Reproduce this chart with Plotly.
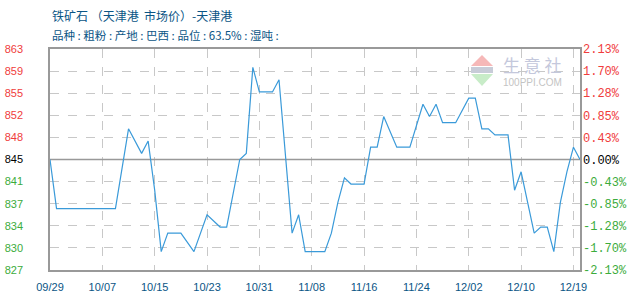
import datetime as dt
import plotly.graph_objects as go

# ---- data ----
dates = ["09/29", "09/30", "10/09", "10/11", "10/13", "10/14", "10/15", "10/16", "10/17", "10/19",
         "10/21", "10/23", "10/25", "10/26", "10/28", "10/29", "10/30", "10/31", "11/02", "11/03",
         "11/05", "11/06", "11/07", "11/10", "11/11", "11/12", "11/13", "11/14", "11/16", "11/17",
         "11/18", "11/19", "11/21", "11/23", "11/25", "11/26", "11/27", "11/28", "11/30", "12/02",
         "12/03", "12/04", "12/05", "12/06", "12/08", "12/09", "12/10", "12/12", "12/13", "12/15",
         "12/16", "12/17", "12/18", "12/19", "12/20"]
prices = [845, 837, 837, 850, 846, 848, 840, 830, 833, 833,
          830, 836, 834, 834, 845, 846, 860, 856, 856, 858,
          833, 836, 830, 830, 833, 838, 842, 841, 841, 847,
          847, 852, 847, 847, 854, 852, 854, 851, 851, 855,
          855, 850, 850, 849, 849, 840, 843, 833, 834, 834,
          830, 838, 843, 847, 845]

# trading-day axis (one day missing between 12/10 and 12/19)
start = dt.date(2014, 9, 29)
axis_days = []
d = start
while len(axis_days) < 82:
    s = d.strftime("%m/%d")
    if s != "12/14":
        axis_days.append(s)
    d += dt.timedelta(days=1)
x_ticks = axis_days[::8]

base = 845
y_ticks = [827 + k * 3.6 for k in range(11)]
left_labels = ["827", "830", "834", "837", "841", "845", "848", "852", "855", "859", "863"]
right_labels = ["-2.13%", "-1.70%", "-1.28%", "-0.85%", "-0.43%", "0.00%",
                "0.43%", "0.85%", "1.28%", "1.70%", "2.13%"]

RED = "#f03c3c"
GREEN = "#3cac3c"
BLUE_TXT = "#0a5585"


def colored(labels, vals):
    out = []
    for lab, v in zip(labels, vals):
        if abs(v - base) < 0.01:
            c = "#000000"
        elif v > base:
            c = RED
        else:
            c = GREEN
        out.append(f'<span style="color:{c}">{lab}</span>')
    return out


fig = go.Figure()
# base reference line (845)
fig.add_trace(go.Scatter(x=[axis_days[0], axis_days[-1]], y=[base, base], mode="lines",
                         line=dict(color="#999999", width=1.5), hoverinfo="skip"))
fig.add_trace(go.Scatter(x=dates, y=prices, mode="lines",
                         line=dict(color="#3a9ad9", width=1.2), hoverinfo="skip"))
fig.add_trace(go.Scatter(x=dates, y=prices, mode="lines", yaxis="y2",
                         line=dict(color="rgba(0,0,0,0)", width=0), hoverinfo="skip"))

fig.update_layout(
    width=630, height=300,
    margin=dict(l=50, r=50, t=49, b=30, autoexpand=False),
    paper_bgcolor="white", plot_bgcolor="white",
    showlegend=False,
    xaxis=dict(type="category", categoryorder="array", categoryarray=axis_days,
               range=[0, 81], tickmode="array", tickvals=x_ticks, ticktext=x_ticks,
               showgrid=True, gridcolor="#c8c8c8", griddash="dash", gridwidth=1,
               showline=True, linecolor="#999999", linewidth=1.5, mirror=True,
               ticks="", ticklabelstandoff=6, automargin=False,
               tickfont=dict(family="Liberation Sans", size=11, color=BLUE_TXT),
               zeroline=False),
    yaxis=dict(range=[827, 863], tickmode="array", tickvals=y_ticks,
               ticktext=colored(left_labels, y_ticks),
               showgrid=True, gridcolor="#c8c8c8", griddash="dash", gridwidth=1,
               showline=True, linecolor="#999999", linewidth=1.5, mirror=True,
               ticks="", ticklabelstandoff=23, automargin=False,
               tickfont=dict(family="Liberation Sans", size=11, color="#000"),
               zeroline=False),
    yaxis2=dict(range=[827, 863], overlaying="y", side="right",
                tickmode="array", tickvals=y_ticks,
                ticktext=colored(right_labels, y_ticks),
                showgrid=False, showline=False, ticks="", ticklabelstandoff=2,
                automargin=False,
                tickfont=dict(family="Liberation Mono", size=12, color="#000"),
                zeroline=False),
)

# titles
fig.add_annotation(text="铁矿石 （天津港  市场价）-天津港", xref="paper", yref="paper",
                   x=0, y=(270 - 15) / 221, xanchor="left", yanchor="middle", showarrow=False,
                   font=dict(family="Noto Sans CJK SC", size=12, color=BLUE_TXT))
fig.add_annotation(text="品种 : 粗粉 : 产地 : 巴西 : 品位 : 63.5% : 湿吨 :", xref="paper", yref="paper",
                   x=0, y=(270 - 35) / 221, xanchor="left", yanchor="middle", showarrow=False,
                   font=dict(family="Noto Sans CJK SC", size=11.5, color=BLUE_TXT))


# watermark
def px(x, y):
    return (x - 50) / 530, (270 - y) / 221


def path(points):
    pts = [px(*p) for p in points]
    return "M " + " L ".join(f"{a},{b}" for a, b in pts) + " Z"


fig.add_shape(type="path", xref="paper", yref="paper",
              path=path([(482, 55), (493, 66), (471, 66)]),
              fillcolor="#f6b8b8", line=dict(width=0))
fig.add_shape(type="path", xref="paper", yref="paper",
              path=path([(471, 67), (493, 67), (493, 73), (471, 73)]),
              fillcolor="#c8ccd8", line=dict(width=0))
fig.add_shape(type="path", xref="paper", yref="paper",
              path=path([(471, 74), (493, 74), (482, 86)]),
              fillcolor="#c8ecc8", line=dict(width=0))
x0, y0 = px(501, 64)
fig.add_annotation(text="生 意 社", xref="paper", yref="paper", x=x0, y=y0,
                   xanchor="left", yanchor="middle", showarrow=False,
                   font=dict(family="Noto Sans CJK SC", size=17, color="#c4c8dc"))
x0, y0 = px(501, 82)
fig.add_annotation(text="100PPI.COM", xref="paper", yref="paper", x=x0, y=y0,
                   xanchor="left", yanchor="middle", showarrow=False,
                   font=dict(family="Liberation Sans", size=10, color="#c4c4c4"))

fig.write_html("out.html")
